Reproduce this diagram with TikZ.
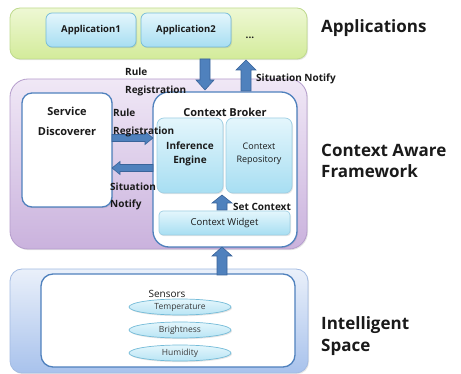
\documentclass[tikz,border=0pt]{standalone}
\usepackage{fontspec}
\setmainfont{Open Sans}
\usetikzlibrary{shadows}
\definecolor{grtop}{HTML}{EEF8D4}
\definecolor{grbot}{HTML}{D3EB9A}
\definecolor{grline}{HTML}{BFDA8E}
\definecolor{aptop}{HTML}{E4F6FC}
\definecolor{apbot}{HTML}{A7DEF2}
\definecolor{apline}{HTML}{74BBD8}
\definecolor{putop}{HTML}{F0E8F6}
\definecolor{pubot}{HTML}{CAB2DD}
\definecolor{puline}{HTML}{B59DCC}
\definecolor{blueline}{HTML}{4F81BD}
\definecolor{istop}{HTML}{EAF0FA}
\definecolor{isbot}{HTML}{A8C2EC}
\definecolor{isline}{HTML}{A3BBE2}
\definecolor{arfill}{HTML}{4F81BD}
\definecolor{arline}{HTML}{3A649A}
\definecolor{txt}{HTML}{1A1A1A}
\tikzset{
  shad/.style={drop shadow={opacity=0.2,shadow xshift=1pt,shadow yshift=-1.2pt}},
  layer/.style={draw=#1line, line width=0.8pt, rounded corners=10pt, shad},
  appbox/.style={draw=apline, line width=0.7pt, top color=aptop, bottom color=apbot, rounded corners=6pt, shad,
    font=\fontsize{9.5}{11}\selectfont\bfseries, text=txt},
  whitebox/.style={draw=blueline, line width=1.3pt, fill=white, rounded corners=10pt},
  cyanbox/.style={draw=apline!70, line width=0.7pt, top color=aptop, bottom color=apbot, rounded corners=7pt, shad, text=txt},
  sensor/.style={ellipse, draw=apline, line width=0.7pt, top color=aptop, bottom color=apbot!80, shad,
    minimum width=102pt, minimum height=16pt, inner sep=0pt, font=\fontsize{8.5}{10}\selectfont, text=txt!85},
  lbl/.style={anchor=west, font=\fontsize{10}{12}\selectfont\bfseries, text=txt, inner sep=0pt},
  biglbl/.style={anchor=west, font=\fontsize{17}{20}\selectfont\bfseries, text=txt, inner sep=0pt},
  arrowbox/.style={fill=arfill, draw=arline, line width=0.6pt, line join=miter},
  pics/barrow/.style n args={4}{code={
    \draw[arrowbox] (0,-#2)--(#1-#4,-#2)--(#1-#4,-#3)--(#1,0)--(#1-#4,#3)--(#1-#4,#2)--(0,#2)--cycle;}}
}
\usetikzlibrary{shapes.geometric}
\begin{document}
\begin{tikzpicture}[x=1pt,y=-1pt]
\useasboundingbox (0,0) rectangle (461,374);

% Applications layer
\node[layer=gr, top color=grtop, bottom color=grbot, minimum width=297pt, minimum height=51pt] (apps) at (158.5,33.5) {};
\node[appbox, minimum width=90pt, minimum height=34pt] (app1) at (91,30) {Application1};
\node[appbox, minimum width=90pt, minimum height=34pt] (app2) at (186,30) {Application2};
\node[font=\fontsize{10}{12}\selectfont\bfseries, text=txt] (dots) at (250,38) {...};
\node[biglbl] (lapps) at (321,28) {Applications};

% Framework layer
\node[layer=pu, rounded corners=18pt, top color=putop, bottom color=pubot, minimum width=297pt, minimum height=170pt] (fw) at (158.5,164) {};
\node[whitebox, minimum width=90pt, minimum height=114pt, shad] (sd) at (67,150) {};
\node[font=\fontsize{11}{20}\selectfont\bfseries, text=txt, align=center, anchor=north] (sdt) at (67,104) {Service\\Discoverer};
\node[whitebox, rounded corners=16pt, minimum width=144pt, minimum height=155pt, shad] (cb) at (225,169.5) {};
\node[font=\fontsize{11}{13}\selectfont, text=txt] (cbt) at (225,112) {\textbf{Context Broker}};
\node[cyanbox, minimum width=66pt, minimum height=75pt, align=center, font=\fontsize{10}{17}\selectfont\bfseries] (ie) at (190,155.5) {\raisebox{6pt}{\shortstack{Inference\\[3pt]Engine}}};
\node[cyanbox, minimum width=66pt, minimum height=75pt, align=center, font=\fontsize{9}{17}\selectfont] (cr) at (259,155.5) {\raisebox{6pt}{\shortstack{Context\\[3pt]Repository}}};
\node[cyanbox, rounded corners=4pt, minimum width=131pt, minimum height=24pt, font=\fontsize{9.5}{11}\selectfont] (cw) at (224.5,223) {Context Widget};
\node[biglbl] (lfw1) at (321,150) {Context Aware};
\node[biglbl] (lfw2) at (321,171) {Framework};

% Intelligent space layer
\node[layer=is, rounded corners=12pt, top color=istop, bottom color=isbot, minimum width=298pt, minimum height=104pt] (is) at (159,321) {};
\node[whitebox, rounded corners=12pt, minimum width=254pt, minimum height=93pt] (inner) at (168,320.5) {};
\node[font=\fontsize{10}{12}\selectfont, text=txt] (sens) at (167,294) {Sensors};
\node[sensor] (temp) at (180,307) {Temperature};
\node[sensor] (bright) at (180,330) {Brightness};
\node[sensor] (hum) at (180,353) {Humidity};
\node[biglbl] (lis1) at (321,325) {Intelligent};
\node[biglbl] (lis2) at (321,347) {Space};

% block arrows
\pic[rotate=-90] at (205,59) {barrow={31}{5}{9}{10}};
\pic[rotate=90] at (246,91) {barrow={31}{5}{10}{10}};
\pic at (112,138) {barrow={41}{3.5}{6.5}{8}};
\pic[rotate=180] at (153,168) {barrow={41}{3.5}{6.5}{8}};
\pic[rotate=90] at (222,210) {barrow={15}{5}{10}{8}};
\pic[rotate=90] at (222,275) {barrow={28}{5}{10}{9}};

% labels
\node[lbl] (r1) at (125,72) {Rule};
\node[lbl] (r2) at (125,91) {Registration};
\node[lbl] (sn1) at (256,79) {Situation Notify};
\node[lbl] (r3) at (113,113) {Rule};
\node[lbl] (r4) at (113,132) {Registration};
\node[lbl] (sn2) at (110,187) {Situation};
\node[lbl] (sn3) at (110,205) {Notify};
\node[lbl] (sc) at (233,207) {Set Context};
\end{tikzpicture}
\end{document}
